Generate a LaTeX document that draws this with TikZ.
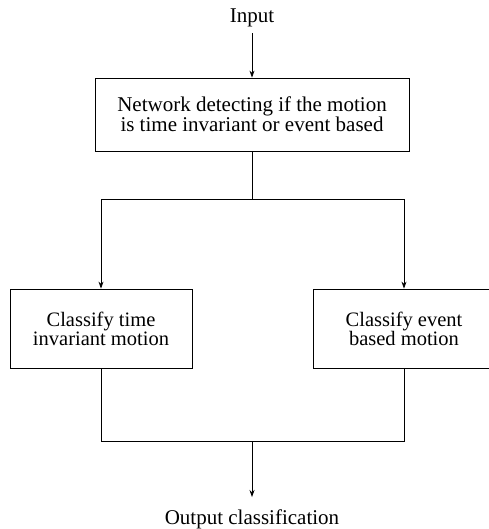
\documentclass[tikz,border=0pt]{standalone}
\usepackage{fontspec}
\setmainfont{Liberation Serif}
\usetikzlibrary{arrows.meta}
\begin{document}
% keep the fixed baseline distance even when lines come close
\lineskiplimit=-100pt
\begin{tikzpicture}[x=1pt,y=-1pt,
  every node/.style={font=\fontsize{21}{20}\selectfont},
  line/.style={line width=0.8pt},
  arrow/.style={line, -{Stealth[length=7pt,width=5pt]}},
  block/.style={draw, line width=0.8pt, align=center, inner sep=0pt},
  smallblock/.style={block, font=\fontsize{20.5}{19}\selectfont,
    minimum width=182pt, minimum height=79pt},
  label/.style={anchor=base, inner xsep=0pt}]
  \useasboundingbox (0,0) rectangle (488,529);

  % input and output labels
  \node[label, inner ysep=5.5pt] (input) at (252,23) {Input};
  \node[label, inner ysep=12pt] (output) at (252,524) {Output classification};

  % processing blocks
  \node[block, minimum width=314pt, minimum height=73pt] (detect) at (252,114.5)
    {Network detecting if the motion\\is time invariant or event based};
  \node[smallblock] (timeinv) at (101,328.5) {Classify time\\invariant motion};
  \node[smallblock] (event) at (404,328.5) {Classify event\\based motion};

  % branch and merge points
  \coordinate (split) at (252,199);
  \coordinate (merge) at (252,441);

  % connectors
  \draw[arrow] (input.south) -- (detect.north);
  \draw[line] (detect.south) -- (split);
  \draw[arrow] (split) -| (timeinv.north);
  \draw[arrow] (split) -| (event.north);
  \draw[line] (timeinv.south) |- (merge);
  \draw[line] (event.south) |- (merge);
  \draw[arrow] (merge) -- (output.north);
\end{tikzpicture}
\end{document}
